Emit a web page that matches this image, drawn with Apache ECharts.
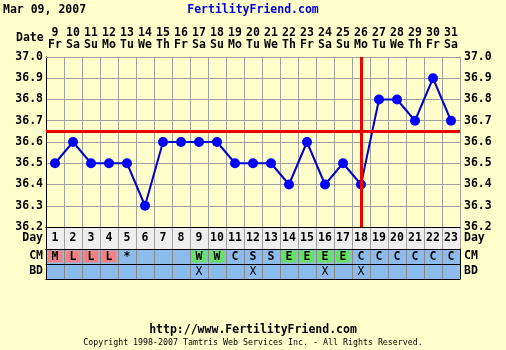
<!DOCTYPE html>
<html><head><meta charset="utf-8">
<script src="https://cdn.jsdelivr.net/npm/echarts@6/dist/echarts.min.js"></script>
<style>html,body{margin:0;padding:0;background:#ffffcc;}#c{width:506px;height:350px;}</style>
</head><body><div id="c"></div>
<script>
const cycleDays = [1,2,3,4,5,6,7,8,9,10,11,12,13,14,15,16,17,18,19,20,21,22,23];
const dates = [9,10,11,12,13,14,15,16,17,18,19,20,21,22,23,24,25,26,27,28,29,30,31];
const weekdays = ['Fr','Sa','Su','Mo','Tu','We','Th','Fr','Sa','Su','Mo','Tu','We','Th','Fr','Sa','Su','Mo','Tu','We','Th','Fr','Sa'];
const temps = [36.5,36.6,36.5,36.5,36.5,36.3,36.6,36.6,36.6,36.6,36.5,36.5,36.5,36.4,36.6,36.4,36.5,36.4,36.8,36.8,36.7,36.9,36.7];
const cm = ['M','L','L','L','*','','','','W','W','C','S','S','E','E','E','E','C','C','C','C','C','C'];
const bd = ['','','','','','','','','X','','','X','','','','X','','X','','','','',''];
const coverline = 36.65;
const ovulationDay = 18;
const yTicks = ['36.2','36.3','36.4','36.5','36.6','36.7','36.8','36.9','37.0'];

const FONT = 'DejaVu Sans Mono';
const FS = 11.5;
const GRAY = '#a0a0a0';
const cmColor = {M:'#f08484', L:'#f08484', W:'#66e066', E:'#66e066'};

const chart = echarts.init(document.getElementById('c'), null, {renderer:'canvas'});
const cats = cycleDays.map(String);

function cellText(getText, bold, fill){
  return function(params, api){
    const i = api.value(0);
    const c = api.coord([i, 0]);
    const s = api.size([1, 1]);
    const t = getText(i);
    const children = [];
    if (fill) {
      const col = fill(i);
      if (col) children.push({type:'rect', shape:{x:c[0]-s[0]/2+1.5, y:c[1]-s[1]/2+1.5, width:s[0]-3, height:s[1]-3}, style:{fill:col}});
    }
    if (t) children.push({type:'text', style:{text:t, x:c[0], y:c[1]+0.5, align:'center', verticalAlign:'middle', font:(bold?'bold ':'')+FS+'px "'+FONT+'"', fill:'#000'}});
    return {type:'group', children};
  };
}

const idx = cycleDays.map((d,i)=>[i,0]);
const lbl = {fontFamily:FONT, fontSize:FS, fontWeight:'bold', color:'#000'};

const option = {
  backgroundColor:'#ffffcc',
  animation:false,
  textStyle:{fontFamily:FONT},
  title:[
    {text:'Mar 09, 2007', left:3, top:4, padding:0, textStyle:lbl},
    {text:'FertilityFriend.com', left:'center', top:4, padding:0, textStyle:Object.assign({}, lbl, {color:'#0000dd'})},
    {text:'Date', left:16, top:32, padding:0, textStyle:lbl},
    {text:'http://www.FertilityFriend.com', left:'center', top:324, padding:0, textStyle:lbl},
    {text:'Copyright 1998-2007 Tamtris Web Services Inc. - All Rights Reserved.', left:'center', top:339, padding:0, textStyle:{fontFamily:FONT, fontSize:8.3, fontWeight:'normal', color:'#000'}}
  ],
  grid:[
    {left:46, top:57, width:414, height:170, show:false},
    {left:46, top:227, width:414, height:22, show:true, backgroundColor:'#eeeeee', borderWidth:0},
    {left:46, top:249, width:414, height:15, show:true, backgroundColor:'#8cbbec', borderWidth:0},
    {left:46, top:264, width:414, height:15, show:true, backgroundColor:'#8cbbec', borderWidth:0}
  ],
  xAxis:[
    {type:'category', gridIndex:0, position:'top', data:cats, boundaryGap:true,
     axisLine:{show:true, lineStyle:{color:GRAY}}, axisTick:{show:false},
     splitLine:{show:true, interval:0, lineStyle:{color:GRAY, width:1}},
     axisLabel:{interval:0, margin:5, formatter:(v,i)=>'{n|'+dates[i]+'}\n{w|'+weekdays[i]+'}',
       rich:{n:Object.assign({lineHeight:12, align:'center'}, lbl),
             w:Object.assign({lineHeight:13, align:'center'}, lbl)}}},
    {type:'category', gridIndex:0, position:'bottom', data:cats, boundaryGap:true,
     axisLine:{show:true, lineStyle:{color:'#000', width:1}}, axisTick:{show:false}, axisLabel:{show:false}, splitLine:{show:false}},
    {type:'category', gridIndex:1, data:cats, boundaryGap:true, axisLine:{show:true, lineStyle:{color:'#000'}}, axisTick:{show:false}, axisLabel:{show:false},
     splitLine:{show:true, interval:0, lineStyle:{color:GRAY}}},
    {type:'category', gridIndex:2, data:cats, boundaryGap:true, axisLine:{show:true, lineStyle:{color:'#000'}}, axisTick:{show:false}, axisLabel:{show:false},
     splitLine:{show:true, interval:0, lineStyle:{color:'#888'}}},
    {type:'category', gridIndex:3, data:cats, boundaryGap:true, axisLine:{show:true, lineStyle:{color:'#000'}}, axisTick:{show:false}, axisLabel:{show:false},
     splitLine:{show:true, interval:0, lineStyle:{color:'#888'}}},
    {type:'category', gridIndex:2, position:'top', data:cats, boundaryGap:true, axisLine:{show:true, lineStyle:{color:'#000'}}, axisTick:{show:false}, axisLabel:{show:false}}
  ],
  yAxis:[
    {type:'value', gridIndex:0, position:'left', min:36.2, max:37.0, interval:0.1,
     axisLine:{show:true, lineStyle:{color:'#000'}}, axisTick:{show:false},
     splitLine:{show:true, lineStyle:{color:GRAY}},
     axisLabel:Object.assign({margin:3, formatter:v=>yTicks[Math.round((v-36.2)*10)]}, lbl)},
    {type:'value', gridIndex:0, position:'right', min:36.2, max:37.0, interval:0.1,
     axisLine:{show:true, lineStyle:{color:GRAY}}, axisTick:{show:false}, splitLine:{show:false},
     axisLabel:Object.assign({margin:4, formatter:v=>yTicks[Math.round((v-36.2)*10)]}, lbl)},
    {type:'category', gridIndex:1, position:'left', data:['Day'], axisLine:{show:true, lineStyle:{color:'#000'}}, axisTick:{show:false},
     axisLabel:Object.assign({margin:3}, lbl)},
    {type:'category', gridIndex:1, position:'right', data:['Day'], axisLine:{show:true, lineStyle:{color:GRAY}}, axisTick:{show:false},
     axisLabel:Object.assign({margin:4}, lbl)},
    {type:'category', gridIndex:2, position:'left', data:['CM'], axisLine:{show:true, lineStyle:{color:'#000'}}, axisTick:{show:false},
     axisLabel:Object.assign({margin:3}, lbl)},
    {type:'category', gridIndex:2, position:'right', data:['CM'], axisLine:{show:true, lineStyle:{color:'#000'}}, axisTick:{show:false},
     axisLabel:Object.assign({margin:4}, lbl)},
    {type:'category', gridIndex:3, position:'left', data:['BD'], axisLine:{show:true, lineStyle:{color:'#000'}}, axisTick:{show:false},
     axisLabel:Object.assign({margin:3}, lbl)},
    {type:'category', gridIndex:3, position:'right', data:['BD'], axisLine:{show:true, lineStyle:{color:'#000'}}, axisTick:{show:false},
     axisLabel:Object.assign({margin:4}, lbl)}
  ],
  series:[
    {type:'line', xAxisIndex:0, yAxisIndex:0, data:temps, symbol:'circle', symbolSize:10, z:3,
     lineStyle:{color:'#0000cc', width:2}, itemStyle:{color:'#0000ff'},
     markLine:{silent:true, symbol:'none', label:{show:false}, z:5, lineStyle:{color:'#ee0000', width:3, type:'solid'},
       data:[{yAxis:coverline}, {xAxis:String(ovulationDay)}]}},
    {type:'custom', xAxisIndex:2, yAxisIndex:2, data:idx, renderItem:cellText(i=>String(cycleDays[i]), true, null), z:4},
    {type:'custom', xAxisIndex:3, yAxisIndex:4, data:idx, renderItem:cellText(i=>cm[i], true, i=>cmColor[cm[i]]), z:4},
    {type:'custom', xAxisIndex:4, yAxisIndex:6, data:idx, renderItem:cellText(i=>bd[i], false, null), z:4}
  ]
};
chart.setOption(option);
</script></body></html>
